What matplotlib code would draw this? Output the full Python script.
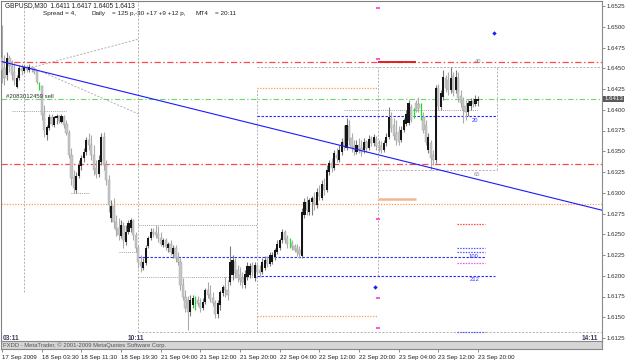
import numpy as np
import matplotlib
matplotlib.use("Agg")
import matplotlib.pyplot as plt

plt.rcParams['font.family'] = ['Liberation Sans', 'DejaVu Sans']

W, H = 625, 361
BAR_PX = 2.479          # pixels per M30 bar
PX_PER_PRICE = 8300.0   # pixels per 1.0000 of price

# GBPUSD M30, first bar = 17 Sep 2009 19:30 (one bar every 30 minutes)
opens = [1.6462, 1.6450, 1.6442, 1.6462, 1.6453, 1.6446, 1.6427, 1.6438, 1.6450, 1.6447,
         1.6452, 1.6448, 1.6452, 1.6449, 1.6447, 1.6431, 1.6429, 1.6396, 1.6370, 1.6378,
         1.6391, 1.6382, 1.6390, 1.6392, 1.6385, 1.6391, 1.6383, 1.6372, 1.6345, 1.6318,
         1.6303, 1.6320, 1.6332, 1.6342, 1.6349, 1.6364, 1.6358, 1.6345, 1.6330, 1.6323,
         1.6337, 1.6367, 1.6333, 1.6315, 1.6269, 1.6284, 1.6265, 1.6258, 1.6248, 1.6260,
         1.6241, 1.6253, 1.6258, 1.6266, 1.6249, 1.6233, 1.6216, 1.6209, 1.6215, 1.6236,
         1.6246, 1.6253, 1.6253, 1.6250, 1.6246, 1.6237, 1.6243, 1.6233, 1.6238, 1.6226,
         1.6233, 1.6223, 1.6217, 1.6189, 1.6174, 1.6171, 1.6156, 1.6165, 1.6167, 1.6171,
         1.6167, 1.6161, 1.6168, 1.6183, 1.6178, 1.6173, 1.6167, 1.6154, 1.6165, 1.6179,
         1.6186, 1.6183, 1.6193, 1.6201, 1.6217, 1.6207, 1.6201, 1.6197, 1.6189, 1.6198,
         1.6201, 1.6212, 1.6197, 1.6212, 1.6207, 1.6205, 1.6209, 1.6219, 1.6214, 1.6217,
         1.6223, 1.6229, 1.6233, 1.6243, 1.6253, 1.6246, 1.6239, 1.6239, 1.6236, 1.6233,
         1.6231, 1.6224, 1.6273, 1.6289, 1.6277, 1.6289, 1.6294, 1.6285, 1.6300, 1.6294,
         1.6309, 1.6303, 1.6325, 1.6336, 1.6330, 1.6346, 1.6339, 1.6349, 1.6361, 1.6354,
         1.6380, 1.6366, 1.6356, 1.6349, 1.6358, 1.6354, 1.6352, 1.6361, 1.6354, 1.6365,
         1.6360, 1.6365, 1.6358, 1.6356, 1.6352, 1.6360, 1.6367, 1.6390, 1.6382, 1.6372,
         1.6373, 1.6364, 1.6376, 1.6383, 1.6384, 1.6403, 1.6396, 1.6408, 1.6407, 1.6400,
         1.6391, 1.6382, 1.6352, 1.6360, 1.6345, 1.6339, 1.6426, 1.6403, 1.6415, 1.6438,
         1.6436, 1.6424, 1.6441, 1.6424, 1.6438, 1.6417, 1.6412, 1.6404, 1.6397, 1.6404,
         1.6410, 1.6407, 1.6411]
highs = [1.6502, 1.6466, 1.6470, 1.6466, 1.6460, 1.6456, 1.6442, 1.6454, 1.6455, 1.6454,
         1.6454, 1.6455, 1.6453, 1.6452, 1.6448, 1.6433, 1.6430, 1.6406, 1.6382, 1.6395,
         1.6395, 1.6392, 1.6395, 1.6394, 1.6395, 1.6394, 1.6388, 1.6376, 1.6354, 1.6327,
         1.6325, 1.6339, 1.6345, 1.6354, 1.6367, 1.6372, 1.6370, 1.6358, 1.6339, 1.6345,
         1.6372, 1.6373, 1.6339, 1.6321, 1.6291, 1.6294, 1.6273, 1.6270, 1.6267, 1.6265,
         1.6261, 1.6267, 1.6270, 1.6268, 1.6253, 1.6237, 1.6225, 1.6221, 1.6237, 1.6248,
         1.6258, 1.6258, 1.6261, 1.6260, 1.6253, 1.6246, 1.6246, 1.6241, 1.6243, 1.6237,
         1.6237, 1.6229, 1.6221, 1.6197, 1.6183, 1.6176, 1.6177, 1.6177, 1.6176, 1.6176,
         1.6173, 1.6173, 1.6185, 1.6193, 1.6189, 1.6180, 1.6171, 1.6171, 1.6183, 1.6189,
         1.6198, 1.6195, 1.6236, 1.6225, 1.6221, 1.6213, 1.6211, 1.6205, 1.6207, 1.6217,
         1.6215, 1.6217, 1.6217, 1.6214, 1.6213, 1.6221, 1.6224, 1.6224, 1.6229, 1.6229,
         1.6233, 1.6243, 1.6246, 1.6256, 1.6255, 1.6249, 1.6246, 1.6243, 1.6238, 1.6238,
         1.6236, 1.6282, 1.6294, 1.6296, 1.6294, 1.6296, 1.6301, 1.6306, 1.6309, 1.6315,
         1.6318, 1.6333, 1.6339, 1.6342, 1.6352, 1.6354, 1.6358, 1.6366, 1.6382, 1.6390,
         1.6388, 1.6372, 1.6364, 1.6364, 1.6366, 1.6364, 1.6366, 1.6364, 1.6370, 1.6368,
         1.6371, 1.6368, 1.6364, 1.6362, 1.6364, 1.6372, 1.6403, 1.6397, 1.6390, 1.6388,
         1.6380, 1.6380, 1.6390, 1.6400, 1.6412, 1.6407, 1.6402, 1.6412, 1.6415, 1.6408,
         1.6397, 1.6388, 1.6372, 1.6364, 1.6352, 1.6430, 1.6431, 1.6424, 1.6448, 1.6442,
         1.6445, 1.6452, 1.6445, 1.6448, 1.6445, 1.6424, 1.6415, 1.6412, 1.6412, 1.6414,
         1.6414, 1.6418, 1.6417]
lows = [1.6432, 1.6430, 1.6436, 1.6446, 1.6436, 1.6430, 1.6426, 1.6436, 1.6442, 1.6444,
        1.6446, 1.6446, 1.6446, 1.6443, 1.6431, 1.6424, 1.6388, 1.6367, 1.6364, 1.6376,
        1.6380, 1.6379, 1.6383, 1.6384, 1.6384, 1.6378, 1.6370, 1.6342, 1.6309, 1.6300,
        1.6300, 1.6318, 1.6327, 1.6337, 1.6345, 1.6352, 1.6339, 1.6321, 1.6318, 1.6319,
        1.6333, 1.6327, 1.6309, 1.6277, 1.6265, 1.6258, 1.6248, 1.6243, 1.6246, 1.6233,
        1.6237, 1.6250, 1.6253, 1.6243, 1.6229, 1.6209, 1.6205, 1.6207, 1.6213, 1.6233,
        1.6243, 1.6247, 1.6246, 1.6241, 1.6236, 1.6235, 1.6231, 1.6229, 1.6225, 1.6221,
        1.6217, 1.6213, 1.6183, 1.6171, 1.6156, 1.6135, 1.6152, 1.6161, 1.6159, 1.6164,
        1.6156, 1.6159, 1.6166, 1.6173, 1.6168, 1.6164, 1.6149, 1.6149, 1.6159, 1.6176,
        1.6174, 1.6171, 1.6189, 1.6195, 1.6197, 1.6193, 1.6189, 1.6185, 1.6185, 1.6195,
        1.6197, 1.6200, 1.6194, 1.6201, 1.6199, 1.6202, 1.6207, 1.6211, 1.6212, 1.6214,
        1.6219, 1.6226, 1.6231, 1.6239, 1.6239, 1.6233, 1.6233, 1.6231, 1.6229, 1.6224,
        1.6221, 1.6221, 1.6270, 1.6273, 1.6273, 1.6273, 1.6279, 1.6282, 1.6291, 1.6291,
        1.6297, 1.6301, 1.6321, 1.6325, 1.6327, 1.6337, 1.6337, 1.6346, 1.6352, 1.6352,
        1.6358, 1.6349, 1.6346, 1.6347, 1.6348, 1.6344, 1.6348, 1.6349, 1.6352, 1.6356,
        1.6356, 1.6352, 1.6349, 1.6348, 1.6349, 1.6356, 1.6365, 1.6373, 1.6364, 1.6358,
        1.6358, 1.6361, 1.6373, 1.6380, 1.6382, 1.6385, 1.6390, 1.6397, 1.6397, 1.6388,
        1.6372, 1.6358, 1.6348, 1.6327, 1.6333, 1.6336, 1.6400, 1.6400, 1.6412, 1.6421,
        1.6418, 1.6420, 1.6417, 1.6420, 1.6409, 1.6403, 1.6384, 1.6388, 1.6393, 1.6400,
        1.6403, 1.6405, 1.6405]
closes = [1.6448, 1.6438, 1.6462, 1.6453, 1.6442, 1.6436, 1.6438, 1.6450, 1.6447, 1.6452,
          1.6448, 1.6452, 1.6449, 1.6446, 1.6433, 1.6431, 1.6394, 1.6376, 1.6379, 1.6391,
          1.6383, 1.6391, 1.6392, 1.6386, 1.6392, 1.6382, 1.6372, 1.6345, 1.6318, 1.6306,
          1.6320, 1.6333, 1.6342, 1.6349, 1.6364, 1.6358, 1.6345, 1.6327, 1.6323, 1.6339,
          1.6367, 1.6333, 1.6315, 1.6285, 1.6284, 1.6265, 1.6255, 1.6249, 1.6261, 1.6243,
          1.6253, 1.6264, 1.6267, 1.6249, 1.6233, 1.6216, 1.6212, 1.6216, 1.6233, 1.6246,
          1.6253, 1.6250, 1.6249, 1.6246, 1.6238, 1.6243, 1.6235, 1.6238, 1.6229, 1.6233,
          1.6221, 1.6217, 1.6189, 1.6174, 1.6161, 1.6156, 1.6171, 1.6173, 1.6167, 1.6166,
          1.6161, 1.6168, 1.6183, 1.6177, 1.6172, 1.6167, 1.6154, 1.6167, 1.6180, 1.6186,
          1.6183, 1.6177, 1.6217, 1.6219, 1.6203, 1.6197, 1.6195, 1.6193, 1.6202, 1.6212,
          1.6212, 1.6205, 1.6213, 1.6205, 1.6203, 1.6217, 1.6219, 1.6214, 1.6225, 1.6225,
          1.6231, 1.6238, 1.6243, 1.6253, 1.6243, 1.6238, 1.6239, 1.6235, 1.6231, 1.6229,
          1.6226, 1.6277, 1.6289, 1.6279, 1.6291, 1.6294, 1.6286, 1.6301, 1.6296, 1.6311,
          1.6303, 1.6327, 1.6336, 1.6330, 1.6348, 1.6342, 1.6352, 1.6361, 1.6356, 1.6382,
          1.6364, 1.6354, 1.6352, 1.6358, 1.6352, 1.6349, 1.6361, 1.6354, 1.6365, 1.6360,
          1.6367, 1.6356, 1.6354, 1.6352, 1.6360, 1.6367, 1.6391, 1.6378, 1.6368, 1.6364,
          1.6361, 1.6376, 1.6388, 1.6395, 1.6408, 1.6388, 1.6396, 1.6400, 1.6402, 1.6400,
          1.6376, 1.6361, 1.6367, 1.6342, 1.6339, 1.6426, 1.6405, 1.6420, 1.6439, 1.6426,
          1.6424, 1.6438, 1.6421, 1.6439, 1.6414, 1.6408, 1.6400, 1.6397, 1.6408, 1.6410,
          1.6407, 1.6413, 1.6413]

date_labels = ["17 Sep 2009", "18 Sep 03:30", "18 Sep 11:30", "18 Sep 19:30", "21 Sep 04:00",
               "21 Sep 12:00", "21 Sep 20:00", "22 Sep 04:00", "22 Sep 12:00", "22 Sep 20:00",
               "23 Sep 04:00", "23 Sep 12:00", "23 Sep 20:00"]
date_label_bars = [0, 16, 32, 48, 64, 80, 96, 112, 128, 144, 160, 176, 192]
price_ticks = [1.6125, 1.6150, 1.6175, 1.6200, 1.6225, 1.6250, 1.6275, 1.6300, 1.6325,
               1.6350, 1.6375, 1.6400, 1.6425, 1.6450, 1.6475, 1.6500, 1.6525]

# order / objects on the chart (price levels, bar index spans)
order_price = 1.6413
stop_levels = [1.6458, 1.6335]
trend_bars = [0, 242]
trend_prices = [1.6458, 1.6279]
orange_full = 1.6286
day_bars = [55, 103, 151.5, 199.5]
gray_top = 1.6451
gray_mid = 1.6327
gray_bottom = 1.6132
box_a = [1.6261, 1.6199]
orange_box = [1.6426, 1.6151]
blue_levels = [1.6392, 1.6223, 1.6200]
blue_spans = [(103, 199.5), (55, 194.8), (103, 198.8)]
gray_dotted = [(1.6399, 4, 26), (1.6300, 28, 35), (1.6229, 47, 55), (1.6400, 138, 192)]
fan_start = (12, 1.6451)
fan_ends = [(55, 1.6485), (55, 1.6395)]
magenta_marks = [1.6523, 1.6461, 1.6268, 1.6173, 1.6137]
short_span = (183.5, 194.8)
short_levels = [(1.6262, "#ff4444"), (1.6233, "#5555ff"), (1.6229, "#5555ff"),
                (1.6215, "#ee55ee"), (1.6132, "#5555ff")]
diamonds_bars = [198.5, 150.5]
diamonds_prices = [1.6492, 1.6187]
level_tags = [("40", 190.8, 1.6458, "#909090", "center"), ("20", 189.5, 1.6390, "#3333ff", "top"),
              ("65", 190.5, 1.6325, "#909090", "top"), ("100", 188.2, 1.6223, "#3333ff", "center"),
              ("212", 188.8, 1.6198, "#3333ff", "top")]

n = len(closes)
bars = np.arange(n)
o = np.array(opens); h = np.array(highs); l = np.array(lows); c = np.array(closes)


def px_to_price(y):
    return 1.6525 - (y - 6) / PX_PER_PRICE


fig = plt.figure(figsize=(W / 100, H / 100), dpi=100)
fig.patch.set_facecolor("white")
ax = fig.add_axes([1 / W, (H - 341) / H, 601 / W, 340 / H])
ax.set_xlim((1 - 2) / BAR_PX, (602 - 2) / BAR_PX)
ax.set_ylim(px_to_price(341), px_to_price(1))
x_right = (602 - 2) / BAR_PX

# ---- candles
up = c > o
down = c < o
doji = c == o
ax.vlines(bars[down], l[down], h[down], color="#ababab", lw=0.8, zorder=3)
ax.vlines(bars[up], l[up], h[up], color="#7c7c7c", lw=0.8, zorder=3)
ax.bar(bars[down], (o - c)[down], bottom=c[down], width=0.88, color="#c6c6c6",
       edgecolor="#a4a4a4", lw=0.3, zorder=4)
ax.bar(bars[up], (c - o)[up], bottom=o[up], width=0.88, color="#161616", lw=0, zorder=4)
ax.vlines(bars[doji], l[doji], h[doji], color="#22dd22", lw=0.9, zorder=5)

# ---- lines
ax.axhline(order_price, color="#6cd86c", lw=0.8, ls=(0, (5, 2, 1.2, 2)), zorder=2)
for p in stop_levels:
    ax.axhline(p, color="#ff4848", lw=0.9, ls=(0, (5, 2, 1.2, 2)), zorder=2)
ax.axhline(orange_full, color="#ff9a55", lw=0.9, ls=(0, (1, 1.2)), zorder=2)
ax.plot(trend_bars, trend_prices, color="#1a1aff", lw=0.8, zorder=6)

gray = dict(color="#a8a8a8", lw=0.6, ls=(0, (2.5, 1.8)), zorder=1)
ax.hlines(gray_top, day_bars[1], x_right, **gray)
ax.hlines(gray_mid, day_bars[2], day_bars[3], **gray)
ax.hlines(gray_bottom, day_bars[0], x_right, **gray)
ax.vlines(day_bars[0], gray_bottom, px_to_price(1), **gray)
ax.vlines(day_bars[1], gray_bottom, orange_box[0], **gray)
ax.vlines(day_bars[2], blue_levels[2], gray_top, **gray)
ax.vlines(day_bars[3], gray_mid, gray_top, **gray)
ax.vlines(9, 1.6180, px_to_price(1), **gray)
for (x1, y1) in fan_ends:
    ax.plot([fan_start[0], x1], [fan_start[1], y1], **gray)
dot = dict(color="#a0a0a0", lw=0.7, ls=(0, (1, 1.2)), zorder=1)
for p, b0, b1 in gray_dotted:
    ax.hlines(p, b0, b1, **dot)
for p in box_a:
    ax.hlines(p, day_bars[0], day_bars[1], **dot)

for p in orange_box:
    ax.hlines(p, day_bars[1], day_bars[2], color="#ff9a55", lw=0.9, ls=(0, (1, 1.2)), zorder=2)
for p, (b0, b1) in zip(blue_levels, blue_spans):
    ax.hlines(p, b0, b1, color="#2a2aff", lw=0.8, ls=(0, (2.2, 1.4)), zorder=2)
for p, col in short_levels:
    ax.hlines(p, short_span[0], short_span[1], color=col, lw=0.9, ls=(0, (1.2, 1.0)), zorder=3)

ax.hlines(stop_levels[0], day_bars[2], 167, color="#e02020", lw=1.4, zorder=3)
ax.hlines(1.6292, day_bars[2], 167, color="#f0b890", lw=1.8, zorder=3)
for p in magenta_marks:
    ax.hlines(p, day_bars[2] - 0.7, day_bars[2] + 0.9, color="#ff55dd", lw=1.4, zorder=3)
ax.scatter(diamonds_bars, diamonds_prices, marker="D", s=5, color="#1a1aff", zorder=7, lw=0)

for txt, b, p, col, va in level_tags:
    ax.text(b, p, txt, fontsize=4.2, color=col, va=va, ha="left", zorder=8)

ax.text(1.5, order_price, "#2083012459 sell", fontsize=4.3, color="#303030",
        va="bottom", ha="left", zorder=8)

# ---- axes styling
for side in ["left", "top"]:
    ax.spines[side].set_color("#808080")
    ax.spines[side].set_linewidth(0.8)
ax.spines["right"].set_color("#8a8a8a")
ax.spines["right"].set_linewidth(0.8)
ax.spines["bottom"].set_visible(False)
ax.set_xticks([])
ax.yaxis.tick_right()
ax.set_yticks(price_ticks)
ax.set_yticklabels([f"{p:.4f}" for p in price_ticks])
ax.tick_params(axis="y", length=2, width=0.5, color="#606060", pad=1.5,
               labelsize=4.4, labelcolor="#303030")
ax.text(1.004, closes[-1], f"{closes[-1]:.4f}", transform=ax.get_yaxis_transform(),
        fontsize=4.4, color="white", va="center", ha="left", zorder=10,
        bbox=dict(boxstyle="square,pad=0.15", fc="#5a5a5a", ec="none"), clip_on=False)

# ---- bottom band + date axis
band = fig.add_axes([1 / W, (H - 349) / H, 601 / W, 8 / H])
band.set_xlim(ax.get_xlim())
band.set_facecolor("#d6d6d6")
for side in band.spines:
    band.spines[side].set_color("#8a8a8a")
    band.spines[side].set_linewidth(0.8)
band.set_yticks([])
band.set_xticks(date_label_bars)
band.set_xticklabels(date_labels)
band.tick_params(axis="x", length=2.5, width=0.5, color="#606060", pad=1.5,
                 labelsize=4.4, labelcolor="#202020")
for lab in band.get_xticklabels():
    lab.set_horizontalalignment("left")
band.text(2 / 601, 0.5, "FXDD - MetaTrader, \u00a9 2001-2009 MetaQuotes Software Corp.",
          transform=band.transAxes, fontsize=4.2, color="#555555", va="center", ha="left")

# ---- header + session labels
fig.text(5 / W, 1 - 6 / H,
         f"GBPUSD,M30  {opens[-1]:.4f} {highs[-1]:.4f} {lows[-1]:.4f} {closes[-1]:.4f}",
         fontsize=4.7, color="#202020", va="center")
for x, s in [(43, "Spread = 4,"), (92, "Daily"), (112, "= 125 p,"),
             (135, "-30 +17 +9 +12 p,"), (195, "MT4"), (215, "= 20:11")]:
    fig.text(x / W, 1 - 13.5 / H, s, fontsize=4.6, color="#202020", va="center")
for x, s in [(3, "03:11"), (128, "10:11"), (582, "14:11")]:
    fig.text(x / W, 1 - 338 / H, s, fontsize=4.8, color="#3c3c5c", va="center",
             fontweight="bold")

fig.savefig("out.png", dpi=100)
